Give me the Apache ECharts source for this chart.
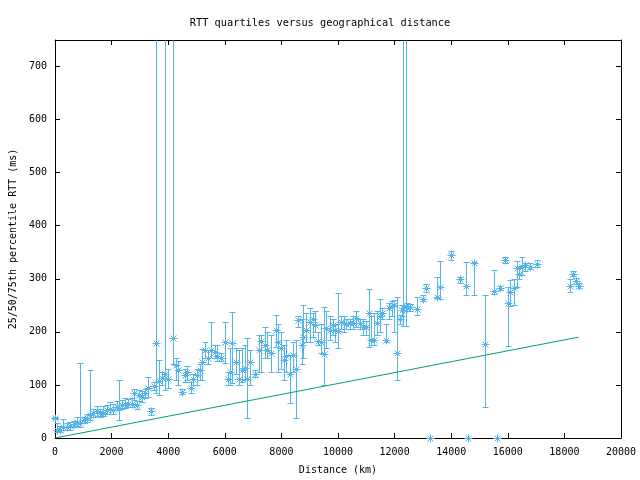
<!DOCTYPE html>
<html><head><meta charset="utf-8">
<script src="https://cdn.jsdelivr.net/npm/echarts@6/dist/echarts.min.js"></script>
<style>html,body{margin:0;padding:0;background:#fff}#c{width:640px;height:480px}</style>
</head><body><div id="c"></div>
<script>
const distance = [0,70,190,300,420,540,660,775,890,1010,1125,1245,1360,1480,1600,1710,1830,1950,2065,2180,2265,2360,2475,2595,2710,2805,2890,2970,3060,3180,3300,3380,3500,3580,3670,3770,3885,3980,4165,4270,4355,4470,4590,4680,4800,4880,5000,5117,5200,5295,5410,5505,5645,5740,5860,6000,6115,6175,6255,6410,6490,6610,6700,6780,6880,7080,7195,7290,7405,7500,7640,7795,7875,7995,8090,8170,8290,8410,8500,8580,8720,8780,8870,9000,9110,9200,9310,9400,9495,9580,9700,9810,9905,10010,10105,10200,10300,10415,10520,10640,10770,10890,10995,11085,11160,11255,11370,11490,11570,11710,11805,11900,11985,12075,12195,12275,12313,12394,12430,12550,12780,13005,13110,13250,13510,13605,14000,14305,14520,14580,14800,15190,15505,15620,15715,15890,15995,16090,16210,16330,16410,16500,16600,16800,17030,18210,18320,18405,18500];
const rttMedian = [38,16,16,21,21,23,26,31,29,34,37,43,47,50,47,48,53,54,53,59,56,62,64,65,65,84,62,81,78,84,94,50,98,179,108,113,121,111,188,138,128,86,119,125,95,111,118,128,144,166,150,166,163,154,150,180,111,125,179,144,111,128,131,111,144,121,165,182,176,166,160,204,180,170,147,155,121,157,130,223,176,191,204,218,224,213,183,180,158,208,203,213,204,202,219,216,214,216,217,227,216,210,210,235,184,185,216,229,236,185,245,248,251,160,224,241,245,248,245,247,244,262,282,0,265,285,345,299,286,0,329,177,277,0,282,336,254,276,282,320,309,323,326,323,328,287,309,295,287];
const rttP25 = [35,12,12,15,15,15,20,22,21,28,30,34,40,42,40,42,45,46,45,52,34,55,57,58,58,72,55,70,68,75,78,44,90,84,81,100,91,95,140,110,100,82,105,110,85,100,100,110,110,150,140,150,150,145,145,141,100,100,103,120,100,105,110,38,100,115,125,125,150,150,125,172,125,130,110,125,66,125,38,210,140,150,180,180,190,200,175,160,100,170,185,195,180,169,205,200,205,205,205,210,205,195,195,172,175,175,195,200,225,180,225,230,200,110,215,230,211,211,240,240,232,258,275,0,264,262,335,293,270,0,270,59,271,0,278,330,174,249,250,284,300,307,315,318,322,275,305,290,283];
const rttP75 = [40,28,22,35,28,30,32,40,142,40,45,128,55,60,55,60,62,68,65,70,109,72,75,74,75,92,70,90,88,92,115,56,105,2000,147,125,2000,130,2000,150,145,92,130,135,105,120,130,140,167,180,165,219,175,175,160,218,125,170,237,170,165,170,175,188,165,128,195,195,210,200,195,232,215,200,175,185,157,180,185,230,225,250,235,245,235,240,200,215,247,240,230,225,215,274,230,230,225,225,230,240,225,225,220,280,230,235,240,262,245,215,255,258,260,266,232,250,2000,2000,255,252,265,270,290,0,304,333,352,303,332,0,332,270,317,0,286,342,284,298,300,333,325,342,330,330,335,300,315,302,293];
const refDistance = [0, 18500];
const refRtt = [0, 190];

const X_MIN = 0, X_MAX = 20000, X_STEP = 2000;
const Y_MIN = 0, Y_MAX = 750, Y_STEP = 100;
const BLUE = '#56B4E9', GREEN = '#009E73';
const FONT = 'DejaVu Sans Mono';

const barData = distance.map((d, i) => [d, rttP25[i], rttMedian[i], rttP75[i]]);
const refData = refDistance.map((d, i) => [d, refRtt[i]]);

function renderItem(params, api) {
  const x = api.value(0), lo = api.value(1), med = api.value(2), hi = api.value(3);
  const hiC = Math.min(hi, Y_MAX);
  const pm = api.coord([x, med]);
  const px = Math.round(pm[0]) + 0.5;
  const yM = Math.round(pm[1]) + 0.5;
  const yLo = Math.round(api.coord([x, lo])[1]) + 0.5;
  const yHi = Math.round(api.coord([x, hiC])[1]) + 0.5;
  const st = {stroke: BLUE, lineWidth: 1, fill: null};
  const c = 3, s = 4, d = 3;
  const ch = [
    {type: 'line', shape: {x1: px, y1: yLo, x2: px, y2: yHi}, style: st},
    {type: 'line', shape: {x1: px - c, y1: yLo, x2: px + c, y2: yLo}, style: st},
    {type: 'line', shape: {x1: px - s, y1: yM, x2: px + s, y2: yM}, style: st},
    {type: 'line', shape: {x1: px, y1: yM - s, x2: px, y2: yM + s}, style: st},
    {type: 'line', shape: {x1: px - d, y1: yM - d, x2: px + d, y2: yM + d}, style: st},
    {type: 'line', shape: {x1: px - d, y1: yM + d, x2: px + d, y2: yM - d}, style: st}
  ];
  if (hi <= Y_MAX) ch.push({type: 'line', shape: {x1: px - c, y1: yHi, x2: px + c, y2: yHi}, style: st});
  return {type: 'group', children: ch};
}

const axisCommon = {
  axisLine: {show: true, onZero: false, lineStyle: {color: '#000', width: 1}},
  axisTick: {show: true, inside: true, length: 5, lineStyle: {color: '#000'}},
  splitLine: {show: false}
};
const labelStyle = {color: '#000', fontFamily: FONT, fontSize: 10};
const plainFmt = v => String(v);

const chart = echarts.init(document.getElementById('c'), null, {renderer: 'canvas'});
chart.setOption({
  animation: false,
  backgroundColor: '#fff',
  title: {
    text: 'RTT quartiles versus geographical distance',
    left: 'center', top: 13,
    textStyle: {fontFamily: FONT, fontSize: 10.3, fontWeight: 'normal', color: '#000'}
  },
  grid: {left: 53, top: 40, width: 568, height: 398, containLabel: false},
  xAxis: [
    Object.assign({type: 'value', min: X_MIN, max: X_MAX, interval: X_STEP, position: 'bottom',
      name: 'Distance (km)', nameLocation: 'middle', nameGap: 27,
      nameTextStyle: labelStyle,
      axisLabel: Object.assign({margin: 9, formatter: plainFmt}, labelStyle)}, axisCommon),
    Object.assign({type: 'value', min: X_MIN, max: X_MAX, interval: X_STEP, position: 'top',
      axisLabel: {show: false}}, axisCommon)
  ],
  yAxis: [
    Object.assign({type: 'value', min: Y_MIN, max: Y_MAX, interval: Y_STEP, position: 'left',
      name: '25/50/75th percentile RTT (ms)', nameLocation: 'middle', nameGap: 37, nameRotate: 90,
      nameTextStyle: labelStyle,
      axisLabel: Object.assign({margin: 8, showMaxLabel: false, formatter: plainFmt}, labelStyle)}, axisCommon),
    Object.assign({type: 'value', min: Y_MIN, max: Y_MAX, interval: Y_STEP, position: 'right',
      axisLabel: {show: false}}, axisCommon)
  ],
  series: [
    {type: 'custom', xAxisIndex: 0, yAxisIndex: 0, renderItem: renderItem, data: barData,
      encode: {x: 0, y: [1, 2, 3]}, clip: false, silent: true},
    {type: 'line', xAxisIndex: 0, yAxisIndex: 0, data: refData, symbol: 'none',
      lineStyle: {color: GREEN, width: 1}, silent: true}
  ]
});
</script></body></html>
